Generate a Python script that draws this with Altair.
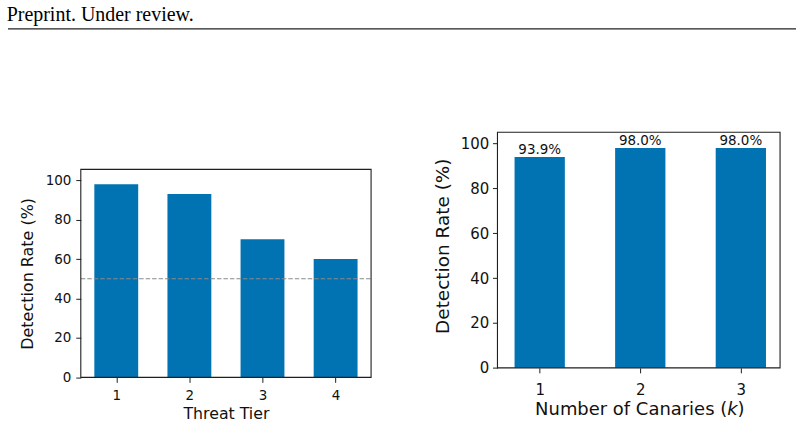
import altair as alt
import pandas as pd

# ---------------------------------------------------------------- data
tiers = [1, 2, 3, 4]
tier_rates = [98.0, 93.0, 70.0, 60.0]
chance_rate = 50.0

canaries = [1, 2, 3]
canary_rates = [93.9, 98.0, 98.0]

pct_ticks = [0, 20, 40, 60, 80, 100]
header = "Preprint. Under review."

# ---------------------------------------------------------------- style
BLUE = "#0173b2"
INK = "#111111"
SPINE = "#1f1f1f"
SANS = "DejaVu Sans"

tier_df = pd.DataFrame({"tier": tiers, "rate": tier_rates})
canary_df = pd.DataFrame({"k": canaries, "rate": canary_rates})
one_row = pd.DataFrame({"n": [0]})

# ---------------------------------------------------------------- geometry
# Left group: plot area is 291 x 208.5 px, placed 37.25 px below the group top
L_W, L_H, L_TOP = 291, 245.75, 37.25
R_W, R_H = 283.3, 236.25
ORG_X, ORG_Y = 80, 130.75          # page position of the left group
PAGE_W, PAGE_H = 804, 425

L_XDOM = [0.515, 4.485]
L_YDOM = [0, 105.5]
R_XDOM = [0.58, 3.39]
R_YDOM = [0, 105]


def x_axis(values, title, label_size, title_size, label_pad, title_pad):
    return alt.Axis(
        values=values, format="d", title=title, grid=False, domain=False,
        tickSize=5, tickColor=SPINE, tickWidth=1,
        labelFont=SANS, labelFontSize=label_size, labelColor=INK,
        labelPadding=label_pad, labelFlush=False,
        titleFont=SANS, titleFontSize=title_size, titleFontWeight="normal",
        titleColor=INK, titlePadding=title_pad,
    )


def y_axis(title, label_size, title_size, label_pad, title_pad, **extra):
    return alt.Axis(
        values=pct_ticks, format="d", title=title, grid=False, domain=False,
        tickSize=5, tickColor=SPINE, tickWidth=1,
        labelFont=SANS, labelFontSize=label_size, labelColor=INK,
        labelPadding=label_pad, labelFlush=False,
        titleFont=SANS, titleFontSize=title_size, titleFontWeight="normal",
        titleColor=INK, titlePadding=title_pad, **extra,
    )


# ---------------------------------------------------------------- left panel
LX_TITLE = "Threat Tier"
Y_TITLE = "Detection Rate (%)"
lx = alt.Scale(domain=L_XDOM, nice=False, zero=False)
ly = alt.Scale(domain=L_YDOM, range=[L_H, L_TOP], nice=False, zero=False)
lx_axis = x_axis(tiers, LX_TITLE, 13.5, 15.8, 6.3, 4.2)
ly_axis = y_axis(Y_TITLE, 13.5, 16, 5, 10)

# invisible page-sized box so the exported page keeps its full extent
page = alt.Chart(one_row).mark_rect(opacity=0).encode(
    x=alt.value(-ORG_X), x2=alt.value(PAGE_W - ORG_X),
    y=alt.value(-ORG_Y), y2=alt.value(PAGE_H - ORG_Y),
)

header_text = alt.Chart(one_row).mark_text(
    text=header, font="Liberation Serif", fontSize=20, color="black",
    align="left", baseline="alphabetic",
).encode(x=alt.value(6 - ORG_X - 0.3), y=alt.value(19.5 - ORG_Y))

header_rule = alt.Chart(one_row).mark_rule(color="#222222", strokeWidth=1.3).encode(
    x=alt.value(7 - ORG_X), x2=alt.value(797 - ORG_X), y=alt.value(27.2 - ORG_Y),
)

left_bars = alt.Chart(tier_df).transform_calculate(
    x0="datum.tier - 0.3", x1="datum.tier + 0.3"
).mark_rect(color=BLUE).encode(
    x=alt.X("x0:Q", scale=lx, axis=lx_axis),
    x2="x1:Q",
    y=alt.Y("rate:Q", scale=ly, axis=ly_axis),
    y2=alt.Y2Datum(0),
)

chance_line = alt.Chart(one_row).mark_rule(
    color="#8a8a8a", strokeDash=[4.5, 2], strokeWidth=1.2
).encode(
    x=alt.XDatum(L_XDOM[0], title=LX_TITLE),
    x2=alt.X2Datum(L_XDOM[1]),
    y=alt.YDatum(chance_rate, title=Y_TITLE),
)

left_frame = alt.Chart(one_row).mark_rect(
    fillOpacity=0, stroke=SPINE, strokeWidth=1.1
).encode(
    x=alt.XDatum(L_XDOM[0], title=LX_TITLE),
    x2=alt.X2Datum(L_XDOM[1]),
    y=alt.YDatum(L_YDOM[0], title=Y_TITLE),
    y2=alt.Y2Datum(L_YDOM[1]),
)

left = alt.layer(
    page, header_text, header_rule, left_bars, chance_line, left_frame
).properties(width=L_W, height=L_H)

# ---------------------------------------------------------------- right panel
rx = alt.Scale(domain=R_XDOM, nice=False, zero=False)
ry = alt.Scale(domain=R_YDOM, nice=False, zero=False)
rx_axis = x_axis(canaries, "", 15, 18, 9.7, 4)
ry_axis = y_axis(Y_TITLE, 15, 18.5, 3.7, 8, titleY=113.75)

right_bars = alt.Chart(canary_df).transform_calculate(
    x0="datum.k - 0.25", x1="datum.k + 0.25"
).mark_rect(color=BLUE).encode(
    x=alt.X("x0:Q", scale=rx, axis=rx_axis),
    x2="x1:Q",
    y=alt.Y("rate:Q", scale=ry, axis=ry_axis),
    y2=alt.Y2Datum(0),
)

right_labels = alt.Chart(canary_df).transform_calculate(
    label="format(datum.rate, '.1f') + '%'"
).mark_text(
    font=SANS, fontSize=13.5, color=INK, align="center", baseline="alphabetic", dy=-3
).encode(
    x=alt.X("k:Q", scale=rx, axis=rx_axis),
    y=alt.Y("rate:Q", scale=ry, axis=ry_axis),
    text="label:N",
)

right_frame = alt.Chart(one_row).mark_rect(
    fillOpacity=0, stroke=SPINE, strokeWidth=1.1
).encode(
    x=alt.XDatum(R_XDOM[0], title=""),
    x2=alt.X2Datum(R_XDOM[1]),
    y=alt.YDatum(R_YDOM[0], title=Y_TITLE),
    y2=alt.Y2Datum(R_YDOM[1]),
)

# x-axis title with an italic k, set in three runs
TITLE_Y = 284.0
K_X = 230.3
K_W = 10.4
title_style = dict(font=SANS, fontSize=18, color=INK, baseline="alphabetic")
title_main = alt.Chart(one_row).mark_text(
    text="Number of Canaries (", align="right", **title_style
).encode(x=alt.value(K_X), y=alt.value(TITLE_Y))
title_k = alt.Chart(one_row).mark_text(
    text="k", align="left", fontStyle="italic", **title_style
).encode(x=alt.value(K_X), y=alt.value(TITLE_Y))
title_close = alt.Chart(one_row).mark_text(
    text=")", align="left", **title_style
).encode(x=alt.value(K_X + K_W), y=alt.value(TITLE_Y))

right = alt.layer(
    right_bars, right_labels, right_frame, title_main, title_k, title_close
).properties(width=R_W, height=R_H)

# ---------------------------------------------------------------- page
chart = alt.hconcat(
    left, right, spacing=126.7, bounds="flush"
).properties(
    padding=0, background="white"
).configure_view(stroke="transparent")

chart.save("out.html", embed_options={"renderer": "svg", "actions": False})
